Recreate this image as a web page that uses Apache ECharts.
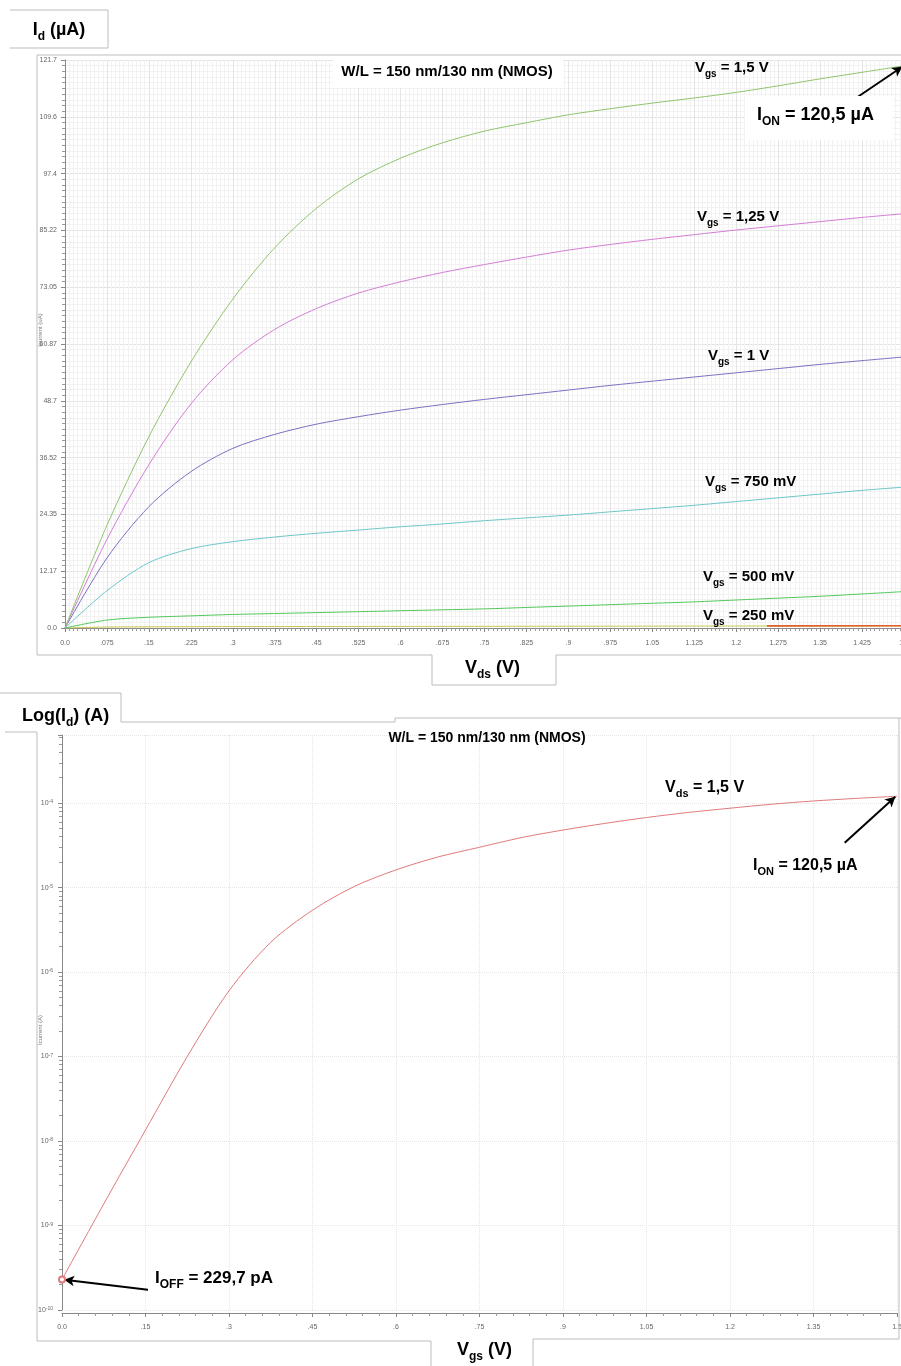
<!DOCTYPE html>
<html><head><meta charset="utf-8">
<script src="https://cdn.jsdelivr.net/npm/echarts@6/dist/echarts.min.js"></script>
<style>html,body{margin:0;padding:0;background:#fff}#c{width:901px;height:1366px}</style>
</head><body><div id="c"></div>
<script>
// ---------- Top chart: Id vs Vds ----------
const vds = [0,0.075,0.15,0.225,0.3,0.375,0.45,0.525,0.6,0.675,0.75,0.825,0.9,0.975,1.05,1.125,1.2,1.275,1.35,1.425,1.5];
const vdsTickLabels = ['0.0','.075','.15','.225','.3','.375','.45','.525','.6','.675','.75','.825','.9','.975','1.05','1.125','1.2','1.275','1.35','1.425','1.5'];
const idTickLabels = ['0.0','12.17','24.35','36.52','48.7','60.87','73.05','85.22','97.4','109.6','121.7'];
// Id in µA
const id_vgs1500 = [0,22,41,57,70.5,81.5,90,96.3,100.7,104,106.5,108.3,110,111.3,112.5,113.6,114.8,116.2,117.7,119.1,120.5];
const id_vgs1250 = [0,19,35,48,57.5,64,68.5,71.8,74.2,76.2,77.9,79.5,81,82.2,83.3,84.3,85.3,86.2,87.1,88,88.8];
const id_vgs1000 = [0,15,26,33.5,38.5,41.5,43.7,45.3,46.7,47.9,49,50,51,52,52.9,53.8,54.7,55.6,56.5,57.3,58.1];
const id_vgs750  = [0,8,14,17,18.5,19.5,20.3,21,21.7,22.3,23,23.6,24.2,24.9,25.6,26.3,27.1,27.9,28.7,29.5,30.2];
const id_vgs500  = [0,1.7,2.3,2.6,2.9,3.1,3.3,3.5,3.7,3.9,4.1,4.4,4.7,5,5.3,5.6,6,6.4,6.8,7.3,7.8];
const id_vgs250  = [0,0.2,0.25,0.28,0.3,0.31,0.32,0.33,0.34,0.35,0.36,0.37,0.38,0.39,0.4,0.41,0.42,0.43,0.44,0.45,0.46];
const vdsOrange = [1.255,1.5];
const idOrange  = [0.45,0.48];

// ---------- Bottom chart: log(Id) vs Vgs ----------
const vgs = [0,0.075,0.15,0.225,0.3,0.375,0.45,0.525,0.6,0.675,0.75,0.825,0.9,0.975,1.05,1.125,1.2,1.275,1.35,1.425,1.5];
const vgsTickLabels = ['0.0','.15','.3','.45','.6','.75','.9','1.05','1.2','1.35','1.5'];
// Id in A at Vds = 1.5 V
const id_vds1500 = [2.297e-10,1.8e-9,1.35e-8,1.0e-7,6.0e-7,2.25e-6,5.4e-6,1.03e-5,1.62e-5,2.3e-5,3.0e-5,3.9e-5,4.8e-5,5.75e-5,6.75e-5,7.75e-5,8.7e-5,9.7e-5,1.06e-4,1.135e-4,1.205e-4];

const FONT = "'Liberation Sans', Arial, sans-serif";
const pair = (xs, ys) => xs.map((x, i) => [x, ys[i]]);

const subRich = (size) => ({
  s: {fontSize: Math.round(size*0.68), fontWeight: 'bold', fontFamily: FONT, fill: '#000', verticalAlign: 'bottom', lineHeight: Math.round(size*0.7)},
});
function label(text, x, y, size, align) {
  return {
    type: 'text', z: 110, x: x, y: y,
    style: {
      text: text, fill: '#000', fontSize: size, fontWeight: 'bold', fontFamily: FONT,
      lineHeight: Math.round(size*1.45), align: align || 'left', verticalAlign: 'middle',
      rich: subRich(size)
    }
  };
}
function line(points, color) {
  return {type: 'polyline', z: 105, shape: {points: points}, style: {stroke: color || '#bdbdbd', lineWidth: 1, fill: null}};
}
function box(x, y, w, h) {
  return {type: 'rect', z: 100, shape: {x: x, y: y, width: w, height: h}, style: {fill: '#fff'}};
}

const axisLabelStyle = {fontSize: 7, color: '#666', fontFamily: FONT};
const SM = 0.3;
const curve = (xi, yi, data, color, width, extra) => Object.assign({
  type: 'line', xAxisIndex: xi, yAxisIndex: yi, data: data, showSymbol: false,
  smooth: SM, lineStyle: {color: color, width: width}
}, extra || {});

const option = {
  animation: false,
  backgroundColor: '#fff',
  grid: [
    {left: 65, right: -3, top: 60, bottom: 738, outerBoundsMode: 'none'},
    {left: 62, right: 4, top: 735, bottom: 56, outerBoundsMode: 'none'}
  ],
  xAxis: [
    {
      type: 'value', gridIndex: 0, min: 0, max: 1.5, interval: 0.075, offset: 5,
      axisLine: {lineStyle: {color: '#888'}},
      axisTick: {show: true, length: 4, lineStyle: {color: '#888'}},
      minorTick: {show: true, splitNumber: 10, length: 3, lineStyle: {color: '#999'}},
      axisLabel: Object.assign({margin: 7, formatter: v => vdsTickLabels[Math.round(v/0.075)] || ''}, axisLabelStyle),
      splitLine: {show: true, lineStyle: {color: '#e4e4e4', width: 1}},
      minorSplitLine: {show: true, lineStyle: {color: '#f2f2f2', width: 1}}
    },
    {
      type: 'value', gridIndex: 1, min: 0, max: 1.5, interval: 0.15, offset: 3,
      axisLine: {lineStyle: {color: '#888'}},
      axisTick: {show: true, length: 4, lineStyle: {color: '#888'}},
      minorTick: {show: true, splitNumber: 5, length: 3, lineStyle: {color: '#999'}},
      axisLabel: Object.assign({margin: 11, formatter: v => vgsTickLabels[Math.round(v/0.15)] || ''}, axisLabelStyle),
      splitLine: {show: true, lineStyle: {color: '#e6e6e6', width: 1, type: 'dotted'}}
    }
  ],
  yAxis: [
    {
      type: 'value', gridIndex: 0, min: 0, max: 121.74, interval: 12.174, offset: 2,
      axisLine: {show: true, lineStyle: {color: '#888'}},
      axisTick: {show: true, length: 4, lineStyle: {color: '#888'}},
      minorTick: {show: true, splitNumber: 10, length: 3, lineStyle: {color: '#999'}},
      axisLabel: Object.assign({margin: 6, formatter: v => idTickLabels[Math.round(v/12.174)] || ''}, axisLabelStyle),
      splitLine: {show: true, lineStyle: {color: '#e4e4e4', width: 1}},
      minorSplitLine: {show: true, lineStyle: {color: '#f2f2f2', width: 1}}
    },
    {
      type: 'log', logBase: 10, gridIndex: 1, min: 1e-10, max: 6.4e-4, offset: 3,
      axisLine: {show: true, lineStyle: {color: '#888'}},
      axisTick: {show: true, length: 4, lineStyle: {color: '#888'}},
      minorTick: {show: true, splitNumber: 9, length: 3, lineStyle: {color: '#999'}},
      axisLabel: Object.assign({margin: 6,
        formatter: v => { const e = Math.log10(v); const r = Math.round(e); return Math.abs(e - r) < 0.02 ? '10{sup|' + r + '}' : ''; },
        rich: {sup: {fontSize: 5, color: '#666', verticalAlign: 'top', lineHeight: 6}}
      }, axisLabelStyle),
      splitLine: {show: true, lineStyle: {color: '#e6e6e6', width: 1, type: 'dotted'}}
    }
  ],
  series: [
    curve(0, 0, pair(vds, id_vgs250), '#c9c64e', 1),
    {type: 'line', xAxisIndex: 0, yAxisIndex: 0, data: pair(vdsOrange, idOrange), showSymbol: false, lineStyle: {color: '#e0612b', width: 1.6}},
    curve(0, 0, pair(vds, id_vgs500), '#52c85c', 1),
    curve(0, 0, pair(vds, id_vgs750), '#6ec6c9', 1),
    curve(0, 0, pair(vds, id_vgs1000), '#7b70c2', 1),
    curve(0, 0, pair(vds, id_vgs1250), '#d27dd6', 1),
    curve(0, 0, pair(vds, id_vgs1500), '#8fc46c', 1, {
      markLine: {silent: true, symbol: ['none', 'arrow'], symbolSize: [8, 10], label: {show: false}, lineStyle: {color: '#000', width: 2, type: 'solid'},
        data: [[{coord: [1.417, 113.8]}, {coord: [1.497, 120.3]}]]}
    }),
    curve(1, 1, pair(vgs, id_vds1500), '#e07a7c', 1, {
      markPoint: {silent: true, symbol: 'emptyCircle', symbolSize: 6, itemStyle: {color: '#e07a7c', borderColor: '#e07a7c'}, label: {show: false},
        data: [{coord: [0, 2.297e-10]}]},
      markLine: {silent: true, symbol: ['none', 'arrow'], symbolSize: [8, 10], label: {show: false}, lineStyle: {color: '#000', width: 2, type: 'solid'},
        data: [
          [{coord: [1.406, 3.4e-5]}, {coord: [1.497, 1.19e-4]}],
          [{coord: [0.158, 1.73e-10]}, {coord: [0.004, 2.28e-10]}]
        ]}
    })
  ],
  graphic: [
    // ---- top frame & label boxes ----
    line([[10, 10], [108, 10], [108, 48], [10, 48]]),
    line([[37, 55], [901, 55]]),
    line([[37, 55], [37, 655], [432, 655], [432, 685], [556, 685], [556, 655], [901, 655]]),
    box(333, 56, 230, 32),
    box(745, 96, 148, 44),
    label('I{s|d} (µA)', 59, 30, 18, 'center'),
    label('W/L = 150 nm/130 nm (NMOS)', 447, 72, 15, 'center'),
    label('V{s|gs} = 1,5 V', 695, 68, 15),
    label('I{s|ON} = 120,5 µA', 757, 115, 18),
    label('V{s|gs} = 1,25 V', 697, 217, 15),
    label('V{s|gs} = 1 V', 708, 356, 15),
    label('V{s|gs} = 750 mV', 705, 482, 15),
    label('V{s|gs} = 500 mV', 703, 577, 15),
    label('V{s|gs} = 250 mV', 703, 616, 15),
    label('V{s|ds} (V)', 465, 668, 18),
    {type: 'text', z: 110, x: 40, y: 330, rotation: Math.PI/2, style: {text: 'Icurrent (uA)', fontSize: 6, fill: '#777', fontFamily: FONT, align: 'center', verticalAlign: 'middle'}},
    // ---- bottom frame & label boxes ----
    line([[0, 693], [121, 693], [121, 722], [395, 722], [395, 718], [582, 718], [901, 718]]),
    line([[5, 732], [37, 732], [37, 1341], [431, 1341], [431, 1366]]),
    line([[533, 1366], [533, 1339], [899, 1339], [899, 718]]),
    box(148, 1262, 55, 34),
    label('Log(I{s|d}) (A)', 22, 716, 18),
    label('W/L = 150 nm/130 nm (NMOS)', 487, 738, 14, 'center'),
    label('V{s|ds} = 1,5 V', 665, 788, 16),
    label('I{s|ON} = 120,5 µA', 753, 866, 16),
    label('I{s|OFF} = 229,7 pA', 155, 1278, 17),
    label('V{s|gs} (V)', 457, 1350, 18),
    {type: 'text', z: 110, x: 40, y: 1030, rotation: Math.PI/2, style: {text: 'Icurrent (A)', fontSize: 6, fill: '#777', fontFamily: FONT, align: 'center', verticalAlign: 'middle'}}
  ]
};

const chart = echarts.init(document.getElementById('c'), null, {renderer: 'canvas'});
chart.setOption(option);
</script>
</body></html>
